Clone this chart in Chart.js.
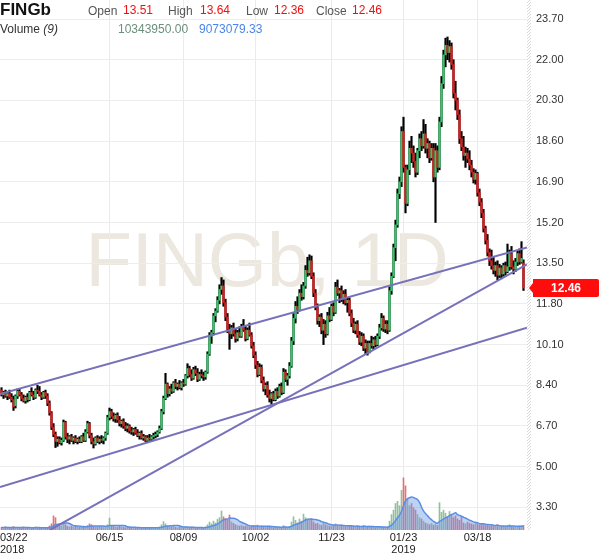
<!DOCTYPE html>
<html>
<head>
<meta charset="utf-8">
<script src="https://cdn.jsdelivr.net/npm/chart.js@4.4.1/dist/chart.umd.min.js"></script>
<style>
body { margin: 0; background: #fff; }
#wrap { position: relative; width: 600px; height: 558px; font-family: Arial, "Liberation Sans", sans-serif; }
#c { position: absolute; left: 0; top: 0; }
.hd { position: absolute; white-space: nowrap; font-size: 12px; line-height: 14px; color: #555; }
.red { color: #f01010; }
</style>
</head>
<body>
<div id="wrap">
  <canvas id="c" width="600" height="558"></canvas>
  <div class="hd" style="left:0;top:0;font-size:17px;line-height:20px;font-weight:bold;color:#111">FINGb</div>
  <div class="hd" style="left:88px;top:4px">Open</div>
  <div class="hd red" style="left:123px;top:3px">13.51</div>
  <div class="hd" style="left:168px;top:4px">High</div>
  <div class="hd red" style="left:200px;top:3px">13.64</div>
  <div class="hd" style="left:246px;top:4px">Low</div>
  <div class="hd red" style="left:274px;top:3px">12.36</div>
  <div class="hd" style="left:316px;top:4px">Close</div>
  <div class="hd red" style="left:352px;top:3px">12.46</div>
  <div class="hd" style="left:0;top:22px;color:#333">Volume <i>(9)</i></div>
  <div class="hd" style="left:118px;top:22px;color:#6b8f7a">10343950.00</div>
  <div class="hd" style="left:199px;top:22px;color:#4a86e8">9073079.33</div>
</div>
<script>
// =====================
// DATA
// =====================
const opens = [
  8.20,8.00,8.10,7.95,8.05,7.90,7.80,7.55,7.95,8.15, 8.00,7.85,7.75,7.90,7.80,8.10,8.00,7.90,8.20,8.15,
  8.00,7.90,8.10,7.95,7.65,7.25,6.65,6.35,6.05,6.15, 6.00,6.10,6.85,6.25,6.15,6.25,6.10,6.20,6.05,6.15,
  6.05,6.25,6.10,6.45,6.80,6.30,6.05,5.95,6.20,6.05, 6.15,6.10,6.20,6.40,7.05,7.30,7.10,7.00,7.15,6.95,
  6.80,6.90,6.70,6.60,6.70,6.50,6.45,6.55,6.40,6.30, 6.40,6.20,6.25,6.10,6.20,6.15,6.25,6.30,6.35,6.45,
  6.60,7.30,7.85,8.45,8.05,8.25,8.15,8.50,8.35,8.45, 8.30,8.50,8.45,8.80,9.10,8.85,8.70,9.05,8.90,8.65,
  8.85,8.80,8.75,8.95,9.70,10.45,10.60,11.30,11.50,11.95, 12.40,12.55,11.85,11.25,10.75,10.55,10.80,10.55,10.35,10.60,
  10.45,10.85,10.70,10.35,10.70,10.50,10.05,9.65,9.25,8.85, 9.15,8.60,8.25,8.40,8.00,7.85,8.05,7.80,8.15,7.95,
  8.35,8.10,8.95,8.65,8.80,9.20,10.25,11.20,11.70,11.55, 12.25,12.10,12.55,13.20,13.10,13.60,12.95,12.25,11.65,11.10,
  11.25,10.70,10.95,10.55,11.30,11.15,11.70,11.45,12.50,12.25, 12.35,12.00,12.20,11.85,11.95,11.40,11.00,10.70,10.95,10.50,
  10.20,10.45,9.95,10.15,9.80,10.15,10.05,10.30,10.10,10.45, 10.80,11.20,10.75,10.95,10.70,12.35,12.95,14.15,15.10,16.40,
  16.90,19.00,17.50,16.00,17.40,18.30,18.10,17.75,17.30,18.20, 18.70,18.40,18.90,18.30,18.50,17.90,18.30,17.10,18.20,17.50,
  19.40,21.00,22.20,22.60,22.30,22.55,21.80,20.60,20.30,19.70, 18.70,18.35,18.00,18.10,17.85,17.60,17.30,17.00,17.25,16.45,
  16.05,15.60,14.95,14.45,13.95,13.60,13.40,13.20,13.40,13.00, 13.30,13.05,13.40,13.15,13.35,13.90,13.35,13.25,13.55,13.90,
  13.55,13.51
];
const highs = [
  8.30,8.15,8.20,8.10,8.20,8.05,7.95,8.00,8.25,8.25, 8.10,8.00,7.95,8.05,8.15,8.30,8.15,8.25,8.40,8.35,
  8.10,8.15,8.20,8.05,7.75,7.30,6.80,6.45,6.25,6.25, 6.20,6.95,6.90,6.40,6.30,6.35,6.25,6.30,6.20,6.25,
  6.30,6.40,6.55,6.90,6.85,6.40,6.20,6.25,6.30,6.25, 6.30,6.25,6.45,7.15,7.45,7.40,7.25,7.20,7.25,7.10,
  6.95,7.00,6.85,6.80,6.75,6.65,6.60,6.65,6.55,6.45, 6.50,6.35,6.30,6.30,6.35,6.30,6.40,6.45,6.50,6.70,
  7.40,7.95,8.90,8.50,8.35,8.45,8.55,8.65,8.50,8.60, 8.55,8.65,8.85,9.30,9.20,9.05,9.15,9.20,9.10,8.95,
  9.05,8.95,9.00,9.80,10.60,10.70,11.40,11.60,12.10,12.60, 12.90,12.80,12.00,11.40,10.95,10.90,11.00,10.75,10.70,10.85,
  10.95,11.15,10.90,10.80,11.00,10.60,10.20,9.80,9.40,9.30, 9.25,8.75,8.50,8.55,8.20,8.10,8.15,8.25,8.30,8.45,
  8.50,9.10,9.05,8.90,9.35,10.40,11.40,11.90,12.10,12.40, 12.60,12.70,13.40,13.75,13.85,13.80,13.10,12.40,11.80,11.35,
  11.40,11.15,11.10,11.45,11.65,11.80,11.85,12.70,12.80,12.45, 12.55,12.35,12.40,12.05,12.05,11.55,11.20,11.05,11.10,10.65,
  10.60,10.55,10.30,10.25,10.25,10.45,10.40,10.45,10.55,10.95, 11.40,11.30,11.10,11.10,12.50,13.10,14.30,15.30,16.60,17.10,
  19.20,19.60,17.60,17.60,18.60,18.80,18.40,18.10,18.30,18.90, 19.00,19.50,19.30,18.70,18.60,18.50,18.50,18.50,18.40,19.60,
  21.30,22.40,22.90,22.95,22.80,22.70,22.00,21.10,20.40,19.90, 19.00,18.80,18.35,18.30,18.20,17.80,17.45,17.40,17.30,16.60,
  16.20,15.75,15.05,14.70,14.10,14.05,13.75,13.55,13.60,13.45, 13.40,13.50,13.55,14.30,14.05,14.20,13.60,13.70,14.00,14.10,
  14.40,13.64
];
const lows = [
  7.95,7.85,7.90,7.80,7.85,7.70,7.35,7.45,7.85,7.95, 7.75,7.70,7.65,7.70,7.75,7.95,7.80,7.85,8.05,7.95,
  7.80,7.85,7.85,7.55,7.15,6.55,6.25,5.80,5.85,5.95, 5.90,6.05,6.15,6.00,5.95,6.05,5.95,6.00,5.95,6.00,
  6.00,6.05,6.05,6.40,6.20,5.95,5.78,5.90,6.00,5.95, 6.00,5.95,6.10,6.35,6.95,7.00,6.90,6.85,6.85,6.70,
  6.65,6.60,6.50,6.45,6.40,6.35,6.30,6.35,6.25,6.15, 6.15,6.10,6.05,6.00,6.10,6.05,6.15,6.20,6.25,6.40,
  6.55,7.20,7.80,7.90,7.95,8.05,8.10,8.25,8.20,8.25, 8.20,8.35,8.40,8.70,8.75,8.60,8.65,8.80,8.55,8.60,
  8.70,8.60,8.65,8.90,9.65,10.15,10.50,11.05,11.45,11.80, 12.20,11.70,11.10,10.60,9.90,10.35,10.45,10.20,10.25,10.40,
  10.40,10.65,10.25,10.30,10.45,9.95,9.55,9.10,8.75,8.80, 8.50,8.15,8.00,7.90,7.70,7.60,7.75,7.75,7.85,7.90,
  8.00,8.05,8.55,8.40,8.70,9.15,10.10,11.00,11.40,11.50, 11.95,12.00,12.45,12.95,13.00,12.85,12.10,11.55,10.95,10.85,
  10.55,10.10,10.40,10.50,11.05,11.10,11.30,11.40,12.15,11.85, 11.90,11.80,11.75,11.45,11.30,10.85,10.60,10.55,10.40,10.10,
  10.05,9.85,9.70,9.66,9.75,9.95,9.90,10.00,10.05,10.35, 10.70,10.65,10.60,10.55,10.65,12.20,12.90,13.60,15.00,16.20,
  16.70,17.30,15.60,15.90,17.20,17.70,17.50,17.10,17.20,17.90, 18.20,18.30,18.10,17.90,17.70,17.80,16.90,15.20,17.30,17.40,
  19.20,20.80,21.70,22.00,21.90,21.60,20.40,19.90,19.50,18.50, 18.20,17.80,17.50,17.70,17.40,17.10,16.85,16.80,16.30,15.90,
  15.40,14.80,14.30,13.80,13.40,13.25,13.05,12.95,12.80,12.90, 12.85,12.95,13.00,13.10,13.20,13.25,13.05,13.15,13.40,13.45,
  13.50,12.36
];
const closes = [
  8.00,8.10,7.95,8.05,7.90,7.80,7.50,7.95,8.15,8.00, 7.85,7.75,7.90,7.80,8.10,8.00,7.90,8.20,8.15,8.00,
  7.90,8.10,7.95,7.65,7.25,6.65,6.35,6.05,6.15,6.00, 6.10,6.85,6.25,6.15,6.25,6.10,6.20,6.05,6.15,6.05,
  6.25,6.10,6.45,6.80,6.30,6.05,5.95,6.20,6.05,6.15, 6.10,6.20,6.40,7.05,7.30,7.10,7.00,7.15,6.95,6.80,
  6.90,6.70,6.60,6.70,6.50,6.45,6.55,6.40,6.30,6.40, 6.20,6.25,6.10,6.20,6.15,6.25,6.30,6.35,6.45,6.60,
  7.30,7.85,8.45,8.05,8.25,8.15,8.50,8.35,8.45,8.30, 8.50,8.45,8.80,9.10,8.85,8.70,9.05,8.90,8.65,8.85,
  8.80,8.75,8.95,9.70,10.45,10.60,11.30,11.50,11.95,12.40, 12.55,11.85,11.25,10.75,10.55,10.80,10.55,10.35,10.60,10.45,
  10.85,10.70,10.35,10.70,10.50,10.05,9.65,9.25,8.85,9.15, 8.60,8.25,8.40,8.00,7.85,8.05,7.80,8.15,7.95,8.35,
  8.10,8.95,8.65,8.80,9.20,10.25,11.20,11.70,11.55,12.25, 12.10,12.55,13.20,13.10,13.60,12.95,12.25,11.65,11.10,11.25,
  10.70,10.95,10.55,11.30,11.15,11.70,11.45,12.50,12.25,12.35, 12.00,12.20,11.85,11.95,11.40,11.00,10.70,10.95,10.50,10.20,
  10.45,9.95,10.15,9.80,10.15,10.05,10.30,10.10,10.45,10.80, 11.20,10.75,10.95,10.70,12.35,12.95,14.15,15.10,16.40,16.90,
  19.00,17.50,16.00,17.40,18.30,18.10,17.75,17.30,18.20,18.70, 18.40,18.90,18.30,18.50,17.90,18.30,17.10,18.20,17.50,19.40,
  21.00,22.20,22.60,22.30,22.55,21.80,20.60,20.30,19.70,18.70, 18.35,18.00,18.10,17.85,17.60,17.30,17.00,17.25,16.45,16.05,
  15.60,14.95,14.45,13.95,13.60,13.40,13.20,13.40,13.00,13.30, 13.05,13.40,13.15,13.35,13.90,13.35,13.25,13.55,13.90,13.55,
  13.70,12.46
];
// volume, milhões
const volumes = [
  6,5,7,4,6,5,8,5,4,6, 5,7,4,5,6,5,4,7,5,6,
  4,5,6,5,9,14,32,28,12,10, 9,16,12,8,7,9,6,8,7,6,
  8,9,7,10,14,12,8,7,6,9, 7,6,8,12,27,10,8,7,6,9,
  7,6,5,7,6,5,5,4,6,5, 4,6,5,4,5,6,4,5,6,7,
  12,19,14,9,8,7,10,6,5,7, 6,5,8,6,5,7,5,4,6,5,
  4,6,7,12,18,14,20,16,24,28, 43,30,26,22,34,18,15,12,10,9,
  11,8,9,8,7,9,10,8,11,7, 9,8,6,7,9,6,5,7,6,5,
  6,10,7,6,8,18,30,22,16,25, 20,36,28,24,22,26,18,14,15,12,
  11,16,12,10,9,8,11,14,10,8, 12,9,7,8,10,9,8,7,9,8,
  6,10,7,8,9,6,7,5,8,6, 7,6,5,7,20,35,45,60,65,55,
  90,118,100,70,55,60,50,45,35,28, 25,20,16,14,12,15,11,14,10,62,
  40,45,38,30,42,35,28,32,25,22, 30,16,14,18,15,14,12,16,13,11,
  14,12,10,11,9,10,8,9,12,7, 8,9,7,10,12,9,7,8,7,9,
  9.3,10.34395
];
const maPeriod = 9;

// eixo de datas
const dateTicks = [0, 54, 91, 127, 165, 201, 238];
const dateLabels = ["03/22", "06/15", "08/09", "10/02", "11/23", "01/23", "03/18"];
const yearLabels = ["2018", "", "", "", "", "2019", ""];
const priceTicks = [3.30, 5.00, 6.70, 8.40, 10.10, 11.80, 13.50, 15.20, 16.90, 18.60, 20.30, 22.00, 23.70];

// linhas de tendência: [x0, preço0, x1, preço1]
const trendLines = [
  [-0.75, 8.03, 262.75, 14.16],
  [24.25, 2.36, 262.75, 13.45],
  [-0.75, 4.15, 262.75, 10.80]
];

const watermark = "FINGb, 1D";

// =====================
// SÉRIES
// =====================
const N = closes.length;
const GREEN = "#2ecb67";
const RED = "#f01414";

let wickData = [], bodyData = [], bodyCores = [], volData = [], volCores = [], maData = [];
for (let i = 0; i < N; i++) {
    wickData.push({ x: i, y: [lows[i], highs[i]] });
    bodyData.push({ x: i, y: [opens[i], closes[i]] });
    let up = closes[i] >= opens[i];
    bodyCores.push(up ? GREEN : RED);
    volData.push({ x: i, y: volumes[i] });
    volCores.push(up ? "rgba(110,170,125,0.75)" : "rgba(225,80,80,0.8)");
    let ini = Math.max(0, i - maPeriod + 1);
    let soma = 0;
    for (let k = ini; k <= i; k++) soma += volumes[k];
    maData.push({ x: i, y: soma / (i - ini + 1) });
}

let trendSets = trendLines.map(t => ({
    type: "line",
    data: [{ x: t[0], y: t[1] }, { x: t[2], y: t[3] }],
    borderColor: "#7671ba",
    borderWidth: 2,
    pointRadius: 0,
    yAxisID: "y",
    order: 0
}));

function semPadding(s) {
    s.paddingLeft = 0;
    s.paddingRight = 0;
    s.paddingTop = 0;
    s.paddingBottom = 0;
}

// =====================
// PLUGIN — decoração
// =====================
const decor = {
    id: "decor",
    beforeDraw(chart) {
        let ctx = chart.ctx;
        ctx.save();
        ctx.font = "76px 'Liberation Sans', Arial, sans-serif";
        ctx.fillStyle = "#ece8df";
        ctx.textAlign = "center";
        ctx.textBaseline = "alphabetic";
        ctx.fillText(watermark, 267, 286);
        ctx.restore();
    },
    afterDraw(chart) {
        let ctx = chart.ctx;
        let a = chart.chartArea;
        ctx.save();

        // faixa hachurada
        ctx.beginPath();
        ctx.rect(a.right, a.top, 4, a.bottom - a.top);
        ctx.clip();
        ctx.strokeStyle = "#d8d8d8";
        ctx.lineWidth = 1;
        for (let y = a.top - 10; y < a.bottom + 10; y += 3) {
            ctx.beginPath();
            ctx.moveTo(a.right, y + 4);
            ctx.lineTo(a.right + 4, y);
            ctx.stroke();
        }
        ctx.restore();

        // datas
        ctx.save();
        ctx.font = "11px 'Liberation Sans', Arial, sans-serif";
        ctx.fillStyle = "#222";
        ctx.textBaseline = "middle";
        ctx.textAlign = "left";
        let xs = chart.scales.x;
        dateTicks.forEach((t, i) => {
            let px = xs.getPixelForValue(t);
            let w = ctx.measureText(dateLabels[i]).width;
            let left = Math.max(0, px - w / 2);
            ctx.fillText(dateLabels[i], left, 538);
            if (yearLabels[i]) {
                let wy = ctx.measureText(yearLabels[i]).width;
                let ly = i === 0 ? 0 : px - wy / 2;
                ctx.fillText(yearLabels[i], ly, 550);
            }
        });
        ctx.restore();

        // etiqueta do último preço
        let yp = chart.scales.y.getPixelForValue(closes[N - 1]);
        ctx.save();
        ctx.fillStyle = "#ff0d0d";
        ctx.beginPath();
        ctx.moveTo(529, yp);
        ctx.lineTo(533, yp - 5);
        ctx.lineTo(533, yp - 9);
        ctx.lineTo(597, yp - 9);
        ctx.quadraticCurveTo(599, yp - 9, 599, yp - 7);
        ctx.lineTo(599, yp + 7);
        ctx.quadraticCurveTo(599, yp + 9, 597, yp + 9);
        ctx.lineTo(533, yp + 9);
        ctx.lineTo(533, yp + 5);
        ctx.closePath();
        ctx.fill();
        ctx.fillStyle = "#fff";
        ctx.font = "bold 12px 'Liberation Sans', Arial, sans-serif";
        ctx.textAlign = "center";
        ctx.textBaseline = "middle";
        ctx.fillText(closes[N - 1].toFixed(2), 566, yp + 0.5);
        ctx.restore();
    }
};

// =====================
// GRÁFICO
// =====================
new Chart(document.getElementById("c"), {
    type: "bar",
    data: {
        datasets: [
            ...trendSets,
            {
                data: bodyData,
                backgroundColor: bodyCores,
                barThickness: 1.5,
                minBarLength: 1,
                grouped: false,
                yAxisID: "y",
                order: 1
            },
            {
                data: wickData,
                backgroundColor: "#000",
                barThickness: 1.5,
                grouped: false,
                yAxisID: "y",
                order: 2
            },
            {
                type: "line",
                data: maData,
                yAxisID: "yv",
                borderColor: "#5a8fe3",
                borderWidth: 1.5,
                backgroundColor: "rgba(110,155,230,0.45)",
                fill: "origin",
                tension: 0.35,
                pointRadius: 0,
                order: 3
            },
            {
                data: volData,
                backgroundColor: volCores,
                barThickness: 1,
                grouped: false,
                yAxisID: "yv",
                order: 4
            }
        ]
    },
    options: {
        responsive: false,
        animation: false,
        devicePixelRatio: 1,
        layout: { padding: 0, autoPadding: false },
        plugins: {
            legend: { display: false },
            tooltip: { enabled: false }
        },
        scales: {
            x: {
                type: "linear",
                offset: false,
                min: -0.75,
                max: 262.75,
                afterBuildTicks: s => { s.ticks = dateTicks.map(v => ({ value: v })); },
                afterFit: s => { s.height = 28; semPadding(s); },
                ticks: { display: false },
                grid: {
                    offset: false,
                    color: c => (c.tick && c.tick.value === 0) ? "rgba(0,0,0,0)" : "#ebebeb",
                    drawTicks: false
                },
                border: { display: false }
            },
            y: {
                position: "right",
                min: 2.355,
                max: 24.494,
                afterBuildTicks: s => { s.ticks = priceTicks.map(v => ({ value: v })); },
                afterFit: s => { s.width = 73; semPadding(s); },
                ticks: {
                    callback: v => v.toFixed(2),
                    color: "#333",
                    font: { size: 11, family: "'Liberation Sans', Arial, sans-serif" },
                    padding: 9
                },
                grid: { color: "#ededed", drawTicks: false },
                border: { display: false }
            },
            yv: {
                display: false,
                min: 0,
                max: 1200
            }
        }
    },
    plugins: [decor]
});
</script>
</body>
</html>
